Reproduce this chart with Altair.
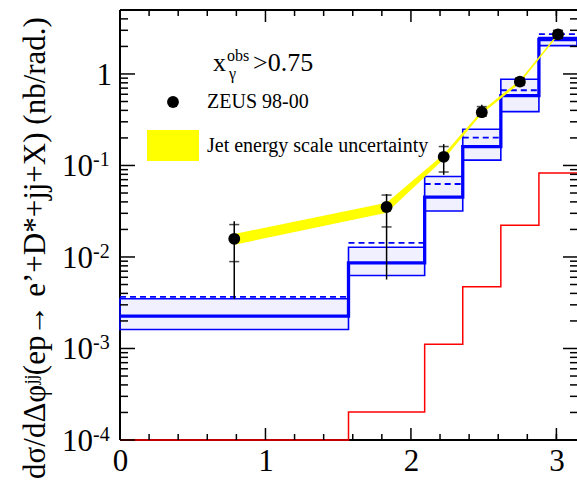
import math
import pandas as pd
import altair as alt

F = "'Liberation Serif', 'Times New Roman', Times, 'DejaVu Serif', serif"

# bin edges in delta-phi (rad)
edges = [0.0, math.pi / 2, 2 * math.pi / 3, 3 * math.pi / 4, 5 * math.pi / 6, 11 * math.pi / 12, math.pi]

# NLO prediction (thick blue), its uncertainty band (hatched boxes), dashed alternative
nlo_central = [0.00226, 0.00863, 0.0452, 0.161, 0.580, 2.38]
nlo_up = [0.00349, 0.01276, 0.0759, 0.249, 0.875, 2.50]
nlo_down = [0.001615, 0.00627, 0.0318, 0.1145, 0.388, 2.04]
dashed_vals = [0.00367, 0.01425, 0.0627, 0.202, 0.664, 2.73]
# red histogram
red_vals = [0.0001, 0.000202, 0.00111, 0.00472, 0.0222, 0.0826]

# ZEUS 98-00 data
data_y = [0.0158, 0.0352, 0.1244, 0.382, 0.824, 2.71]
stat_lo = [0.0089, 0.0213, 0.0848, 0.345, 0.75, 2.45]
stat_hi = [0.0226, 0.0475, 0.161, 0.44, 0.90, 3.0]
tot_lo = [0.00349, 0.00567, 0.079, 0.33, 0.74, 2.40]
tot_hi = [0.0246, 0.0488, 0.171, 0.46, 0.91, 3.05]
# jet energy scale uncertainty band
band_lo = [0.0136, 0.0305, 0.117, 0.368, 0.792, 2.64]
band_hi = [0.0178, 0.0392, 0.1325, 0.397, 0.855, 2.78]

# axis tick values
x_major = [0, 1, 2, 3]
x_minor = [0.2, 0.4, 0.6, 0.8, 1.2, 1.4, 1.6, 1.8, 2.2, 2.4, 2.6, 2.8, 3.0]
y_major = [1e-4, 1e-3, 1e-2, 1e-1, 1.0]
y_minor = [k * 10.0 ** e for e in [-4, -3, -2, -1] for k in range(2, 10)] + [2.0, 3.0, 4.0]
y_lab_vals = [1e-4, 1e-3, 1e-2, 1e-1]
y_lab_exp = ["-4", "-3", "-2", "-1"]

W, H = 457, 430

lo = edges[:-1]
hi = edges[1:]
centers = [(a + b) / 2 for a, b in zip(lo, hi)]

bins = pd.DataFrame({"lo": lo, "hi": hi, "c": nlo_central, "up": nlo_up,
                     "down": nlo_down, "dash": dashed_vals})
step = pd.DataFrame({"x": edges, "c": nlo_central + [nlo_central[-1]],
                     "red": red_vals + [red_vals[-1]]})
pts = pd.DataFrame({"x": centers, "y": data_y, "slo": stat_lo, "shi": stat_hi,
                    "tlo": tot_lo, "thi": tot_hi, "blo": band_lo, "bhi": band_hi})
stat_ticks = pd.DataFrame({"x": centers + centers, "y": stat_lo + stat_hi})

xs = alt.Scale(domain=[0, math.pi], nice=False, zero=False)
ys = alt.Scale(type="log", domain=[1e-4, 5], nice=False)
xaxis = alt.Axis(values=x_major, format="d", ticks=False, tickSize=0, domain=False, grid=False,
                 labelFont=F, labelFontSize=31, labelColor="black", labelPadding=6,
                 labelFlush=False, labelOverlap=False, labelBound=False, title=None)

def X(f):
    return alt.X(f, scale=xs, axis=xaxis)

def Y(f):
    return alt.Y(f, scale=ys, axis=None)

BLUE = "#0000ff"

# frame (left, top, bottom)
one_row = pd.DataFrame({"k": [0]})
frame = alt.layer(
    alt.Chart(one_row).mark_rule(color="black", strokeWidth=2).encode(x=alt.value(0), y=alt.value(0), y2=alt.value(H)),
    alt.Chart(one_row).mark_rule(color="black", strokeWidth=2).encode(x=alt.value(0), x2=alt.value(W), y=alt.value(0)),
    alt.Chart(one_row).mark_rule(color="black", strokeWidth=2).encode(x=alt.value(0), x2=alt.value(W), y=alt.value(H)),
)

boxes = alt.Chart(bins).mark_rect(fill=BLUE, fillOpacity=0.06, stroke=BLUE, strokeWidth=1.6).encode(
    x=X("lo:Q"), x2="hi:Q", y=Y("down:Q"), y2="up:Q")
dashed = alt.Chart(bins).mark_rule(color=BLUE, strokeWidth=1.8, strokeDash=[6, 4]).encode(
    x=X("lo:Q"), x2="hi:Q", y=Y("dash:Q"))
red = alt.Chart(step).mark_line(color="#ff0000", strokeWidth=1.5, interpolate="step-after").encode(
    x=X("x:Q"), y=Y("red:Q"))
central = alt.Chart(step).mark_line(color=BLUE, strokeWidth=3.3, interpolate="step-after").encode(
    x=X("x:Q"), y=Y("c:Q"))
band = alt.Chart(pts).mark_area(color="#ffff00", opacity=1).encode(
    x=X("x:Q"), y=Y("blo:Q"), y2="bhi:Q")
err = alt.Chart(pts).mark_rule(color="black", strokeWidth=1.5).encode(
    x=X("x:Q"), y=Y("tlo:Q"), y2="thi:Q")
sticks = alt.Chart(stat_ticks).mark_tick(color="black", orient="horizontal", size=10, thickness=1.5).encode(
    x=X("x:Q"), y=Y("y:Q"))
points = alt.Chart(pts).mark_circle(color="black", size=140, opacity=1).encode(
    x=X("x:Q"), y=Y("y:Q"))

# inward ticks
ymaj = pd.DataFrame({"v": y_major})
ymin = pd.DataFrame({"v": y_minor})
xmaj = pd.DataFrame({"v": x_major})
xmin = pd.DataFrame({"v": x_minor})
tk = dict(color="black", strokeWidth=1.5)
ticks = alt.layer(
    alt.Chart(ymaj).mark_rule(**tk).encode(y=Y("v:Q"), x=alt.value(0), x2=alt.value(15)),
    alt.Chart(ymin).mark_rule(**tk).encode(y=Y("v:Q"), x=alt.value(0), x2=alt.value(8)),
    alt.Chart(ymaj).mark_rule(**tk).encode(y=Y("v:Q"), x=alt.value(W - 14), x2=alt.value(W)),
    alt.Chart(ymin).mark_rule(**tk).encode(y=Y("v:Q"), x=alt.value(W - 7), x2=alt.value(W)),
    alt.Chart(xmaj).mark_rule(**tk).encode(x=X("v:Q"), y=alt.value(H), y2=alt.value(H - 12)),
    alt.Chart(xmin).mark_rule(**tk).encode(x=X("v:Q"), y=alt.value(H), y2=alt.value(H - 6)),
    alt.Chart(xmaj).mark_rule(**tk).encode(x=X("v:Q"), y=alt.value(0), y2=alt.value(12)),
    alt.Chart(xmin).mark_rule(**tk).encode(x=X("v:Q"), y=alt.value(0), y2=alt.value(6)),
)

# y tick labels 10^n
ylab = pd.DataFrame({"v": y_lab_vals, "e": y_lab_exp})
ten = alt.Chart(ylab).mark_text(text="10", align="right", baseline="alphabetic", font=F,
                                fontSize=31, dy=11, color="black").encode(x=alt.value(-27), y=Y("v:Q"))
expo = alt.Chart(ylab).mark_text(align="left", baseline="alphabetic", font=F, fontSize=20,
                                 dy=1, color="black").encode(x=alt.value(-27), y=Y("v:Q"), text="e:N")
one = alt.Chart(pd.DataFrame({"v": [1.0], "t": ["1"]})).mark_text(
    align="right", baseline="alphabetic", font=F, fontSize=31, dy=11, color="black").encode(
    x=alt.value(-8), y=Y("v:Q"), text="t:N")

# y title
ytitle = alt.Chart(one_row).mark_text(
    text="dσ/dΔφʲʲ(ep→ e’+D*+jj+X) (nb/rad.)", angle=270, align="center",
    baseline="alphabetic", font=F, fontSize=31, color="black").encode(
    x=alt.value(-75), y=alt.value(238))

# legend / labels
def txt(t, x, y, size, **kw):
    return alt.Chart(one_row).mark_text(text=t, align="left", baseline="alphabetic",
                                        font=F, fontSize=size, color="black", **kw).encode(
        x=alt.value(x), y=alt.value(y))

leg = alt.layer(
    txt("x", 93, 61, 26),
    txt("γ", 109, 69, 16),
    txt("obs", 107, 51, 16),
    txt(">0.75", 133, 61, 26),
    alt.Chart(one_row).mark_circle(color="black", size=140, opacity=1).encode(x=alt.value(53), y=alt.value(92)),
    txt("ZEUS 98-00", 87, 98, 20),
    alt.Chart(one_row).mark_rect(color="#ffff00").encode(
        x=alt.value(27), x2=alt.value(79), y=alt.value(120), y2=alt.value(151)),
    txt("Jet energy scale uncertainty", 87, 142, 20),
)

chart = alt.layer(
    frame, boxes, red, dashed, central, band, err, sticks, points,
    ticks, ten, expo, one, ytitle, leg
).properties(
    width=W, height=H,
    autosize=alt.AutoSizeParams(type="none"),
    padding={"left": 120, "top": 10, "right": 0, "bottom": 46},
).configure_view(stroke=None).configure(background="white")

chart.save("out.html", embed_options={"renderer": "svg", "actions": False})
